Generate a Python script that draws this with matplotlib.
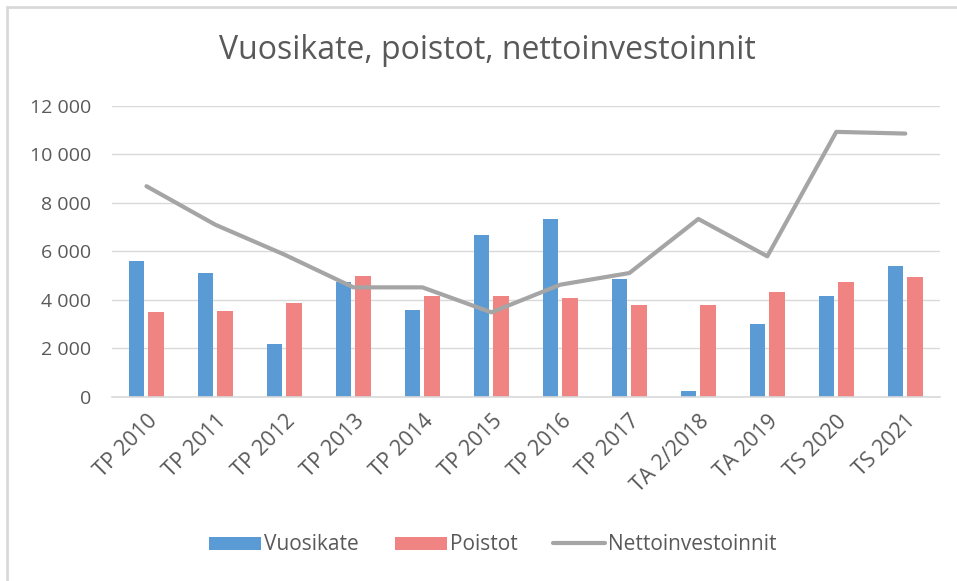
import numpy as np
import matplotlib
matplotlib.use('Agg')
import matplotlib.pyplot as plt
from matplotlib.patches import Rectangle
from matplotlib.ticker import FuncFormatter

# data
categories = ['TP 2010', 'TP 2011', 'TP 2012', 'TP 2013', 'TP 2014', 'TP 2015',
              'TP 2016', 'TP 2017', 'TA 2/2018', 'TA 2019', 'TS 2020', 'TS 2021']
vuosikate = [5600, 5100, 2170, 4730, 3600, 6660, 7350, 4870, 260, 3010, 4180, 5390]
poistot = [3500, 3560, 3860, 4970, 4180, 4180, 4070, 3810, 3810, 4340, 4750, 4960]
nettoinvestoinnit = [8690, 7100, 5870, 4520, 4520, 3490, 4630, 5110, 7340, 5800, 10930, 10860]

TXT = '#595959'
GRID = '#D9D9D9'

plt.rcParams['font.family'] = ['Open Sans', 'DejaVu Sans']

fig = plt.figure(figsize=(9.57, 5.81), dpi=100)
ax = fig.add_axes([0.117, 0.3167, 0.865, 0.501])

x = np.arange(len(categories))
w = 0.225
b1 = ax.bar(x - 0.142, vuosikate, w, color='#5B9BD5', label='Vuosikate', zorder=2)
b2 = ax.bar(x + 0.142, poistot, w, color='#F08482', label='Poistot', zorder=2)
l1, = ax.plot(x, nettoinvestoinnit, color='#A5A5A5', lw=3, solid_capstyle='round',
              solid_joinstyle='round', label='Nettoinvestoinnit', zorder=3)

ax.set_xlim(-0.5, len(categories) - 0.5)
ax.set_ylim(0, 12000)
ax.set_yticks(np.arange(0, 12001, 2000))
ax.yaxis.set_major_formatter(FuncFormatter(lambda v, p: f'{int(v):,}'.replace(',', ' ')))
ax.grid(axis='y', color=GRID, lw=1, zorder=0)
for s in ['top', 'right', 'left']:
    ax.spines[s].set_visible(False)
ax.spines['bottom'].set_color(GRID)
ax.spines['bottom'].set_linewidth(1.2)
ax.tick_params(axis='both', length=0, colors=TXT)
ax.tick_params(axis='y', pad=15, labelsize=14)
ax.set_xticks(x)
ax.set_xticklabels(categories, rotation=45, ha='right', rotation_mode='anchor')
ax.tick_params(axis='x', pad=10, labelsize=15.5)

fig.text(0.509, 0.913, 'Vuosikate, poistot, nettoinvestoinnit', ha='center', va='center',
         fontsize=23, color=TXT)

fig.legend([b1, b2, l1], ['Vuosikate', 'Poistot', 'Nettoinvestoinnit'],
           loc='center', bbox_to_anchor=(0.515, 0.062), ncol=3, frameon=False,
           fontsize=15, labelcolor=TXT, handlelength=2.5, handleheight=0.6,
           columnspacing=1.7, handletextpad=0.15)

fig.patches.append(Rectangle((7 / 957, -0.1), 1.1, 1.1 - 7 / 581, transform=fig.transFigure,
                             fill=False, edgecolor=GRID, lw=2))

fig.savefig('out.png', dpi=100)
